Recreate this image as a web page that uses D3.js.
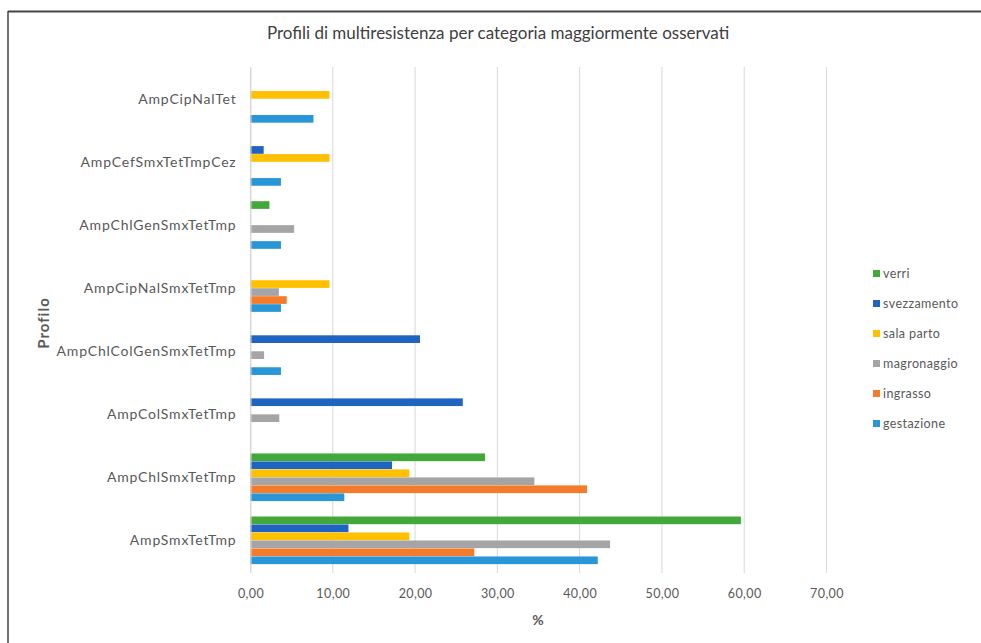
<!DOCTYPE html>
<html>
  <head>
    <meta charset="utf-8">
    <script src="https://d3js.org/d3.v7.min.js"></script>
    <style>
      body { margin: 0; background: #fff; }
      text { font-family: Lato, "Open Sans", sans-serif; }
    </style>
  </head>
  <body>
    <svg id="chart" width="981" height="643"></svg>
    <script>
      // profiles, top to bottom as shown
      var profili = ["AmpCipNalTet", "AmpCefSmxTetTmpCez", "AmpChlGenSmxTetTmp", "AmpCipNalSmxTetTmp",
                     "AmpChlColGenSmxTetTmp", "AmpColSmxTetTmp", "AmpChlSmxTetTmp", "AmpSmxTetTmp"];
      // series, top to bottom inside each group
      var categorie = ["verri", "svezzamento", "sala parto", "magronaggio", "ingrasso", "gestazione"];
      var colori = ["#43a83a", "#1f64c0", "#ffc000", "#a5a5a5", "#f47b2a", "#2996d7"];

      // % per profile (same order as profili)
      var verri       = [0, 0, 2.3, 0, 0, 0, 28.5, 59.6];
      var svezzamento = [0, 1.6, 0, 0, 20.6, 25.8, 17.2, 11.9];
      var salaParto   = [9.6, 9.6, 0, 9.6, 0, 0, 19.3, 19.3];
      var magronaggio = [0, 0, 5.3, 3.45, 1.65, 3.5, 34.5, 43.7];
      var ingrasso    = [0, 0, 0, 4.4, 0, 0, 40.9, 27.2];
      var gestazione  = [7.65, 3.7, 3.7, 3.7, 3.7, 0, 11.4, 42.2];
      var serie = [verri, svezzamento, salaParto, magronaggio, ingrasso, gestazione];

      var xTicks = [0, 10, 20, 30, 40, 50, 60, 70];

      var svg = d3.select("#chart");

      // frame
      svg.append("line").attr("x1", 8).attr("x2", 981).attr("y1", 11.5).attr("y2", 11.5)
        .attr("stroke", "#444").attr("stroke-width", 2);
      svg.append("line").attr("x1", 8).attr("x2", 8).attr("y1", 11).attr("y2", 643)
        .attr("stroke", "#444").attr("stroke-width", 1.5);

      var x = d3.scaleLinear().domain([0, 70]).range([250.5, 826.5]);
      var y = d3.scaleBand().domain(profili).range([67.5, 572]).paddingInner(0.24).paddingOuter(0.12);
      var y1 = d3.scaleBand().domain(categorie).range([0, y.bandwidth()]);

      // gridlines
      svg.append("g")
        .selectAll("line")
        .data(xTicks)
        .enter().append("line")
          .attr("x1", function(d) { return x(d); })
          .attr("x2", function(d) { return x(d); })
          .attr("y1", 67)
          .attr("y2", 573)
          .attr("stroke", "#d9d9d9")
          .attr("stroke-width", 1);

      // bars
      var gruppi = svg.append("g")
        .selectAll("g")
        .data(profili)
        .enter().append("g")
          .attr("transform", function(d) { return "translate(0," + y(d) + ")"; });

      gruppi.selectAll("rect")
        .data(function(d, i) {
          return categorie.map(function(c, j) { return { cat: c, val: serie[j][i], col: colori[j] }; });
        })
        .enter().append("rect")
          .attr("x", x(0))
          .attr("y", function(d) { return y1(d.cat); })
          .attr("height", y1.bandwidth() - 0.3)
          .attr("width", function(d) { return x(d.val) - x(0); })
          .attr("fill", function(d) { return d.col; });

      // x axis labels
      svg.append("g")
        .attr("transform", "translate(0,573)")
        .call(d3.axisBottom(x).tickValues(xTicks).tickSize(0).tickPadding(16)
          .tickFormat(function(d) { return d3.format(".2f")(d).replace(".", ","); }))
        .call(function(g) { g.select(".domain").remove(); })
        .selectAll("text")
          .attr("fill", "#595959")
          .style("font-family", "Lato, sans-serif")
          .style("font-size", "12.5px")
          .style("letter-spacing", "0.4px");

      // y axis labels
      svg.append("g")
        .attr("transform", "translate(250.5,0)")
        .call(d3.axisLeft(y).tickSize(0).tickPadding(14))
        .call(function(g) { g.select(".domain").attr("stroke", "#d9d9d9"); })
        .selectAll("text")
          .attr("fill", "#595959")
          .style("font-family", "Lato, sans-serif")
          .style("font-size", "14px")
          .style("letter-spacing", "0.8px");

      // title
      svg.append("text")
        .attr("x", 498)
        .attr("y", 39)
        .attr("text-anchor", "middle")
        .attr("font-size", "17px")
        .attr("fill", "#404040")
        .text("Profili di multiresistenza per categoria maggiormente osservati");

      // axis titles
      svg.append("text")
        .attr("x", 538)
        .attr("y", 625)
        .attr("text-anchor", "middle")
        .attr("font-size", "14px")
        .attr("font-weight", "bold")
        .attr("fill", "#595959")
        .text("%");

      svg.append("text")
        .attr("transform", "translate(49,323) rotate(-90)")
        .attr("text-anchor", "middle")
        .attr("font-size", "15px")
        .attr("font-weight", "bold")
        .attr("fill", "#595959")
        .style("letter-spacing", "1px")
        .text("Profilo");

      // legend
      var legenda = svg.append("g")
        .selectAll("g")
        .data(categorie)
        .enter().append("g")
          .attr("transform", function(d, i) { return "translate(873," + (274 + i * 30) + ")"; });

      legenda.append("rect")
        .attr("x", 0).attr("y", -4)
        .attr("width", 7).attr("height", 7)
        .attr("fill", function(d, i) { return colori[i]; });

      legenda.append("text")
        .attr("x", 10)
        .attr("y", 4)
        .attr("font-size", "12.5px")
        .attr("fill", "#595959")
        .style("letter-spacing", "0.4px")
        .text(function(d) { return d; });
    </script>
  </body>
</html>
